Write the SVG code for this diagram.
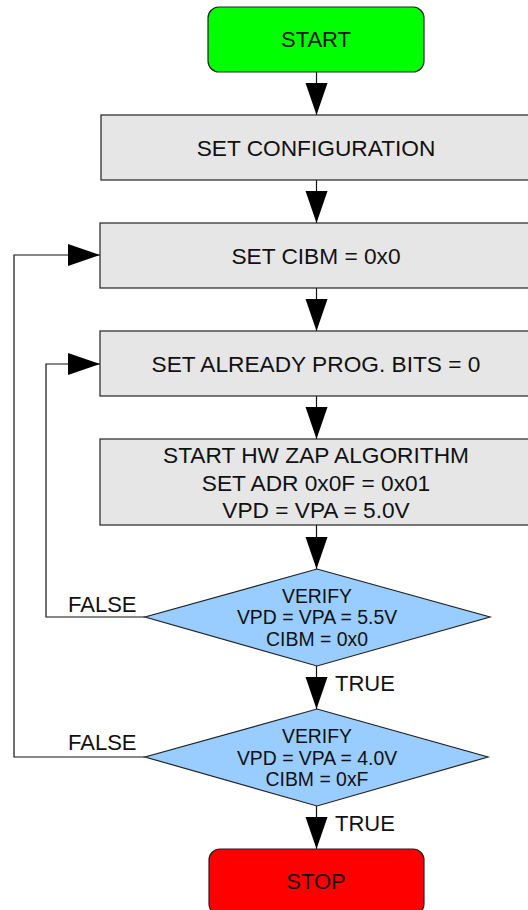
<svg xmlns="http://www.w3.org/2000/svg" width="528" height="910" viewBox="0 0 528 910">
<style>
  text { font-family: "Liberation Sans", Arial, sans-serif; fill: #111; text-anchor: middle; }
  .t22 { font-size: 22px; }
  .tb { font-size: 22.7px; }
  .t19 { font-size: 19.4px; }
  .lbl { font-size: 22px; text-anchor: start; }
  .box { fill: #e6e6e6; stroke: #222; stroke-width: 1.2; }
  .dia { fill: #99ccff; stroke: #222; stroke-width: 1.2; }
  .conn { fill: none; stroke: #111; stroke-width: 1.2; marker-end: url(#arr); }
</style>
<defs>
  <marker id="arr" markerUnits="userSpaceOnUse" markerWidth="33" markerHeight="23" refX="32" refY="11" orient="auto">
    <path d="M0,0 L32,11 L0,22 z" fill="#000"/>
  </marker>
</defs>
<rect width="528" height="910" fill="#fff"/>
<g id="connectors">
  <path class="conn" d="M316.5,72 V115"/>
  <path class="conn" d="M316.5,180 V223"/>
  <path class="conn" d="M316.5,288 V331"/>
  <path class="conn" d="M316.5,396 V439"/>
  <path class="conn" d="M316.5,525 V569"/>
  <path class="conn" d="M316.5,666 V709"/>
  <path class="conn" d="M316.5,806 V849"/>
  <path class="conn" d="M145,617 H46 V364 H100"/>
  <path class="conn" d="M145,757 H14 V255 H100"/>
  <text class="lbl" x="68" y="612">FALSE</text>
  <text class="lbl" x="335" y="691">TRUE</text>
  <text class="lbl" x="68" y="750">FALSE</text>
  <text class="lbl" x="335" y="831">TRUE</text>
</g>
<g id="start">
  <rect x="208" y="7" width="216" height="65" rx="11" fill="#00ff00" stroke="#222" stroke-width="1.2"/>
  <text class="t22" x="316" y="47">START</text>
</g>
<g id="set-configuration">
  <rect class="box" x="101" y="115" width="440" height="65"/>
  <text class="tb" x="316" y="156">SET CONFIGURATION</text>
</g>
<g id="set-cibm">
  <rect class="box" x="100" y="223" width="440" height="65"/>
  <text class="tb" x="316" y="264">SET CIBM = 0x0</text>
</g>
<g id="set-already">
  <rect class="box" x="100" y="331" width="440" height="65"/>
  <text class="tb" x="316" y="372">SET ALREADY PROG. BITS = 0</text>
</g>
<g id="start-hw">
  <rect class="box" x="100" y="439" width="440" height="86"/>
  <text class="tb" x="316" y="463">START HW ZAP ALGORITHM</text>
  <text class="tb" x="316" y="491">SET ADR 0x0F = 0x01</text>
  <text class="tb" x="316" y="518">VPD = VPA = 5.0V</text>
</g>
<g id="verify1">
  <polygon class="dia" points="317,569 490,617 317,666 145,617"/>
  <text class="t19" x="317" y="603">VERIFY</text>
  <text class="t19" x="317" y="624">VPD = VPA = 5.5V</text>
  <text class="t19" x="317" y="646">CIBM = 0x0</text>
</g>
<g id="verify2">
  <polygon class="dia" points="317,709 488,757 317,806 145,757"/>
  <text class="t19" x="317" y="743">VERIFY</text>
  <text class="t19" x="317" y="765">VPD = VPA = 4.0V</text>
  <text class="t19" x="317" y="786">CIBM = 0xF</text>
</g>
<g id="stop">
  <rect x="209" y="849" width="215" height="66" rx="11" fill="#ff0000" stroke="#222" stroke-width="1.2"/>
  <text class="t22" x="316" y="889">STOP</text>
</g>
</svg>
